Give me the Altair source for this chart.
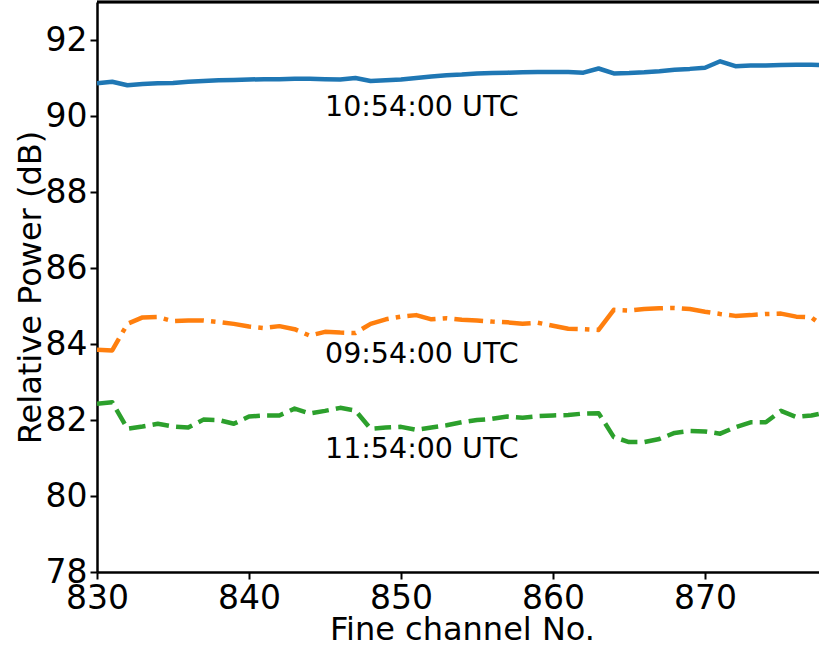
import altair as alt
import pandas as pd

channels = list(range(830, 879))

power_1054 = [90.86, 90.90, 90.81, 90.84, 90.86, 90.87, 90.90, 90.92, 90.94, 90.95,
              90.96, 90.97, 90.97, 90.98, 90.98, 90.97, 90.96, 91.00, 90.92, 90.94,
              90.96, 91.00, 91.04, 91.07, 91.09, 91.12, 91.13, 91.14, 91.15, 91.16,
              91.16, 91.16, 91.14, 91.25, 91.12, 91.13, 91.15, 91.18, 91.22, 91.24,
              91.27, 91.44, 91.31, 91.33, 91.33, 91.34, 91.35, 91.35, 91.34]

power_0954 = [83.85, 83.83, 84.53, 84.70, 84.71, 84.60, 84.62, 84.62, 84.58, 84.53,
              84.46, 84.42, 84.47, 84.39, 84.22, 84.32, 84.30, 84.29, 84.53, 84.65,
              84.72, 84.76, 84.65, 84.68, 84.64, 84.62, 84.59, 84.57, 84.53, 84.56,
              84.48, 84.40, 84.39, 84.37, 84.90, 84.88, 84.92, 84.94, 84.95, 84.92,
              84.85, 84.79, 84.74, 84.76, 84.79, 84.80, 84.72, 84.70, 84.40]

power_1154 = [82.43, 82.47, 81.77, 81.83, 81.90, 81.83, 81.80, 82.01, 82.00, 81.90,
              82.09, 82.12, 82.12, 82.30, 82.17, 82.24, 82.32, 82.25, 81.77, 81.80,
              81.82, 81.74, 81.80, 81.86, 81.94, 82.00, 82.03, 82.09, 82.06, 82.10,
              82.12, 82.13, 82.17, 82.18, 81.55, 81.42, 81.42, 81.50, 81.66, 81.71,
              81.70, 81.64, 81.81, 81.94, 81.94, 82.24, 82.08, 82.12, 82.20]

label_text = ["10:54:00 UTC", "09:54:00 UTC", "11:54:00 UTC"]
label_x = [845, 845, 845]
label_y = [90.0, 83.5, 81.0]

x_ticks = [830, 840, 850, 860, 870]
y_ticks = [78, 80, 82, 84, 86, 88, 90, 92]

FONT = "DejaVu Sans"
W, H = 722, 570

x_scale = alt.Scale(domain=[830, 877.5], nice=False, zero=False)
y_scale = alt.Scale(domain=[78, 93], nice=False, zero=False)

x_axis = alt.Axis(
    title="Fine channel No.", values=x_ticks, grid=False,
    tickSize=7, tickWidth=2, tickColor="black",
    domainColor="black", domainWidth=2.5,
    labelFont=FONT, labelFontSize=33, labelColor="black", labelPadding=3,
    labelFlush=False, labelOverlap=False,
    titleFont=FONT, titleFontSize=32, titleFontWeight="normal", titleColor="black",
    titleX=365, titleY=57, titleBaseline="middle", titleAlign="center",
)
y_axis = alt.Axis(
    title="Relative Power (dB)", values=y_ticks, grid=False,
    tickSize=7, tickWidth=2, tickColor="black",
    domainColor="black", domainWidth=2.5,
    labelFont=FONT, labelFontSize=33, labelColor="black", labelPadding=3,
    labelFlush=False, labelOverlap=False,
    titleFont=FONT, titleFontSize=32, titleFontWeight="normal", titleColor="black",
    titleX=-67, titleY=285, titleBaseline="middle", titleAlign="center", titleAngle=-90,
)


def line(vals, color, dash):
    df = pd.DataFrame({"ch": channels, "p": vals})
    kw = dict(color=color, strokeWidth=4.5, clip=True, strokeJoin="round")
    if dash:
        kw["strokeDash"] = dash
        kw["strokeCap"] = "butt"
    return alt.Chart(df).mark_line(**kw).encode(
        x=alt.X("ch:Q", scale=x_scale, axis=x_axis),
        y=alt.Y("p:Q", scale=y_scale, axis=y_axis),
    )


blue = line(power_1054, "#1f77b4", None)
orange = line(power_0954, "#ff7f0e", [28.8, 7.2, 4.5, 7.2])
green = line(power_1154, "#2ca02c", [16.6, 7.2])

labels_df = pd.DataFrame({"x": label_x, "y": label_y, "t": label_text})
labels = alt.Chart(labels_df).mark_text(
    align="left", baseline="alphabetic", font=FONT, fontSize=28.5, color="black"
).encode(
    x=alt.X("x:Q", scale=x_scale),
    y=alt.Y("y:Q", scale=y_scale),
    text="t:N",
)

top_spine = alt.Chart(labels_df).mark_rule(color="black", strokeWidth=2.5).encode(
    x=alt.value(0), x2=alt.value(W), y=alt.value(0)
)

chart = alt.layer(blue, orange, green, labels, top_spine).properties(
    width=W, height=H,
    autosize=alt.AutoSizeParams(type="none"),
    padding={"left": 97, "top": 2, "right": 0, "bottom": 78},
    background="white",
).configure_view(stroke=None)

chart.save("out.html", embed_options={"renderer": "svg", "actions": False})
